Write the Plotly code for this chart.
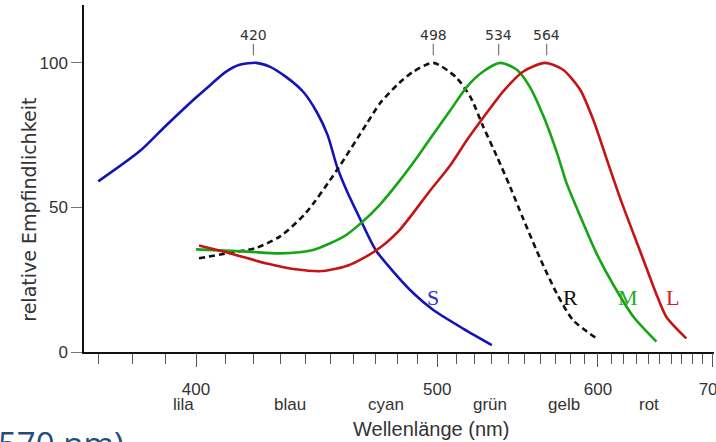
import plotly.graph_objects as go

# ---------------- data (wavelength in nm, relative sensitivity in %) ----------------
s_wl = [370, 382, 390, 400, 405, 410, 415, 421, 426, 432, 439, 444.5, 449, 453, 457, 463, 470, 478, 488, 498, 514, 530]
s_val = [59, 69.3, 78, 88, 92.5, 96.8, 99.3, 100, 98.7, 95.3, 90, 83, 75, 64, 56, 46, 35.3, 28, 20.3, 14.5, 8, 2.4]

r_wl = [401, 410, 421, 430, 440, 453, 466, 472, 481, 488, 498, 510, 518, 525, 533, 541, 549, 560, 571, 582, 599]
r_val = [32.4, 34, 36, 40, 48, 63, 79, 86, 93, 97, 100, 95, 88, 78, 67.6, 57, 46, 32, 20, 11, 4.7]

m_wl = [400, 418, 430, 443, 456, 464, 472, 481, 491, 496, 507, 516, 525, 535, 545, 553, 562, 571, 577.5, 587, 599, 612, 628, 647]
m_val = [35.5, 34.7, 34.1, 35.3, 40, 45, 51, 59, 68.5, 73.4, 83.7, 91.8, 97, 100, 97.6, 91.8, 81.4, 68.7, 58.3, 47, 34, 23, 12, 3.6]

l_wl = [401, 412, 425, 436, 447, 458, 470, 481, 496, 507, 516, 525, 537, 549, 563, 575, 587, 596.5, 606, 618, 634, 648, 656, 674]
l_val = [36.8, 34, 30.6, 28.6, 28, 30, 35, 42, 55.5, 64.7, 73.4, 81, 90.3, 97, 100, 97.6, 90.7, 80.3, 67.5, 52, 34, 19, 12, 4.7]

peak_wl = [420, 498, 534, 564]
peak_text = ["420", "498", "534", "564"]

curve_names = ["S", "R", "M", "L"]
curve_label_wl = [498, 580, 623, 661]
curve_label_val = [19, 19, 19, 19]

minor_tick_wl = list(range(370, 701, 10))
major_tick_wl = [400, 500, 600, 700]
major_tick_text = ["400", "500", "600", "700"]

color_names = ["lila", "blau", "cyan", "grün", "gelb", "rot"]
color_name_wl = [396, 434, 475, 529, 576, 641]

y_ticks = [0, 50, 100]

# ---------------- helpers ----------------
def u(wl):
    # plot against wavenumber (1000 / wavelength) -> axis linear in 1/lambda
    return [1000.0 / w for w in wl]

BLUE = "#1414b4"
GREEN = "#14a514"
RED = "#c41414"
BLACK = "#111111"
TXT = "#333333"
SANS = "Liberation Sans, Arial, sans-serif"
SERIF = "Liberation Serif, DejaVu Serif, serif"

fig = go.Figure()

common = dict(width=2.6, shape="spline", smoothing=0.7)
fig.add_trace(go.Scatter(x=u(s_wl), y=s_val, mode="lines", line=dict(color=BLUE, **common)))
fig.add_trace(go.Scatter(x=u(r_wl), y=r_val, mode="lines", line=dict(color=BLACK, dash="6px,4px", **common)))
fig.add_trace(go.Scatter(x=u(m_wl), y=m_val, mode="lines", line=dict(color=GREEN, **common)))
fig.add_trace(go.Scatter(x=u(l_wl), y=l_val, mode="lines", line=dict(color=RED, **common)))

# peak markers (short vertical ticks above each maximum)
px, py = [], []
for w in peak_wl:
    px += [1000.0 / w, 1000.0 / w, None]
    py += [102.6, 106.6, None]
fig.add_trace(go.Scatter(x=px, y=py, mode="lines", line=dict(color="#777777", width=1.2),
                         cliponaxis=False))

# invisible trace to activate overlaid axis with major ticks
fig.add_trace(go.Scatter(x=u(major_tick_wl), y=[0] * 4, xaxis="x2", mode="markers",
                         marker=dict(opacity=0), hoverinfo="skip"))

annotations = []
for w, t in zip(peak_wl, peak_text):
    annotations.append(dict(x=1000.0 / w, y=109.8, xref="x", yref="y", text=t, showarrow=False,
                            font=dict(family="DejaVu Sans", size=14, color=TXT), yanchor="middle"))

label_colors = ["#3030cc", "#111111", "#22aa22", "#cc2222"]
for n, w, v, c in zip(curve_names, curve_label_wl, curve_label_val, label_colors):
    annotations.append(dict(x=1000.0 / w, y=v, xref="x", yref="y", text=n, showarrow=False,
                            font=dict(family=SERIF, size=22, color=c), yanchor="middle"))

for n, w in zip(color_names, color_name_wl):
    annotations.append(dict(x=1000.0 / w, y=0, xref="x", yref="paper", text=n, showarrow=False,
                            font=dict(family=SANS, size=17, color=TXT), yanchor="middle", yshift=-52))

annotations.append(dict(x=1000.0 / 497, y=0, xref="x", yref="paper", text="Wellenlänge (nm)",
                        showarrow=False, font=dict(family=SANS, size=20, color=TXT),
                        yanchor="middle", yshift=-77))
annotations.append(dict(x=0, y=0.41, xref="paper", yref="paper", text="relative Empfindlichkeit",
                        showarrow=False, textangle=-90, font=dict(family="DejaVu Sans", size=19, color=TXT),
                        xanchor="center", yanchor="middle", xshift=-55))
annotations.append(dict(x=0, y=0, xref="paper", yref="paper", text="570 nm)", showarrow=False,
                        font=dict(family="Open Sans, sans-serif", size=33, color="#1f4e79"),
                        xanchor="left", yanchor="top", xshift=-88, yshift=-67))

xr = [1000.0 / 366.0, 1000.0 / 701.2]

fig.update_layout(
    width=716, height=442,
    margin=dict(l=84, r=2, t=5, b=90, autoexpand=False),
    paper_bgcolor="white", plot_bgcolor="white",
    showlegend=False,
    xaxis=dict(range=xr, tickvals=u(minor_tick_wl), ticktext=[""] * len(minor_tick_wl),
               ticks="outside", ticklen=10, tickwidth=1.2, tickcolor="#555555",
               showline=True, linecolor=BLACK, linewidth=1.5, showgrid=False, zeroline=False,
               automargin=False),
    xaxis2=dict(range=xr, overlaying="x", anchor="y", side="bottom",
                tickvals=u(major_tick_wl), ticktext=major_tick_text,
                ticks="outside", ticklen=14, tickwidth=1.2, tickcolor="#555555",
                tickfont=dict(family=SANS, size=17, color=TXT), ticklabelstandoff=8,
                ticklabeloverflow="allow",
                showline=False, showgrid=False, zeroline=False, automargin=False),
    yaxis=dict(range=[0, 120], tickvals=y_ticks, ticktext=[str(v) for v in y_ticks],
               ticks="outside", ticklen=11, tickwidth=1.2, tickcolor="#777777",
               tickfont=dict(family=SANS, size=17, color=TXT),
               showline=True, linecolor=BLACK, linewidth=1.5, showgrid=False, zeroline=False,
               automargin=False),
    annotations=annotations,
)

fig.write_html("out.html", config={"displayModeBar": False},
               post_script="document.body.style.margin='0';document.body.style.padding='0';"
                           "document.body.style.overflow='hidden';")
